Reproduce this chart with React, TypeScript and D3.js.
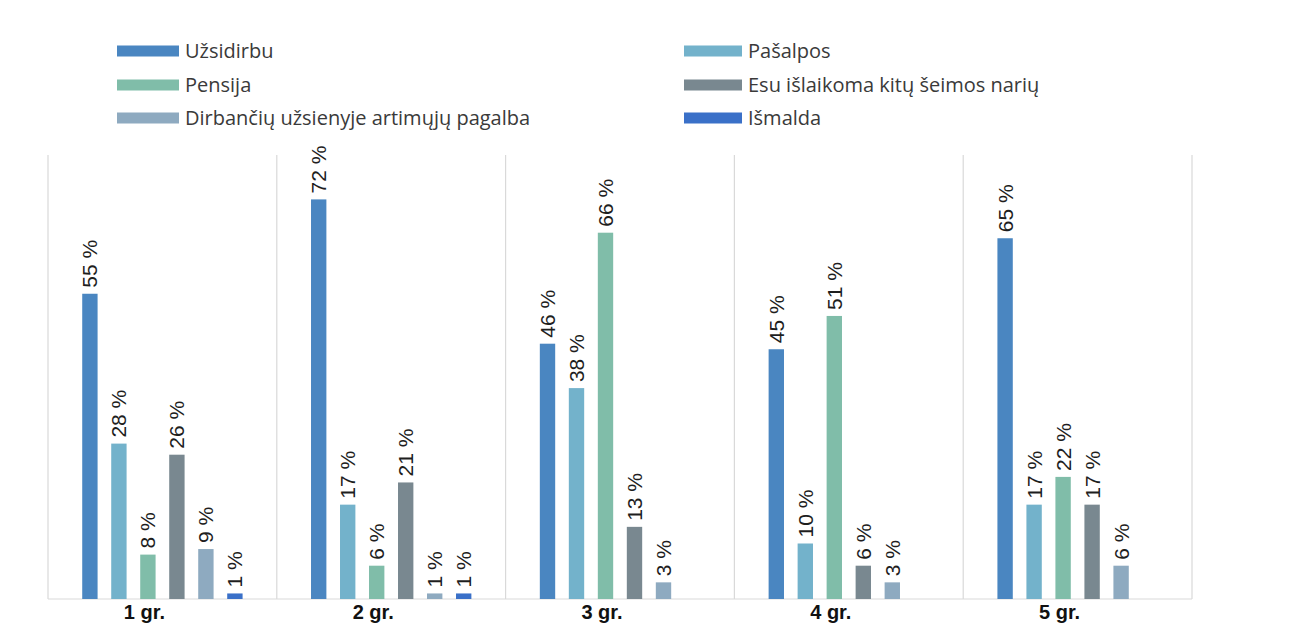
import React from "react";
import * as d3 from "d3";

const categories = ["1 gr.", "2 gr.", "3 gr.", "4 gr.", "5 gr."];
const seriesNames = [
  "Užsidirbu",
  "Pašalpos",
  "Pensija",
  "Esu išlaikoma kitų šeimos narių",
  "Dirbančių užsienyje artimųjų pagalba",
  "Išmalda",
];
const seriesColors = ["#4a86c1", "#73b2cb", "#80bda9", "#798890", "#8eaac0", "#3a70c8"];

const uzsidirbu = [55, 72, 46, 45, 65];
const pasalpos = [28, 17, 38, 10, 17];
const pensija = [8, 6, 66, 51, 22];
const esuIslaikoma = [26, 21, 13, 6, 17];
const dirbanciu = [9, 1, 3, 3, 6];
const ismalda: (number | null)[] = [1, 1, null, null, null];

const seriesValues: (number | null)[][] = [uzsidirbu, pasalpos, pensija, esuIslaikoma, dirbanciu, ismalda];

const W = 1290;
const H = 625;
const plotLeft = 48;
const plotRight = 1192;
const plotTop = 155;
const plotBottom = 599;

export default function App() {
  const x0 = d3.scaleBand<string>().domain(categories).range([plotLeft, plotRight]).padding(0);
  const x1 = d3
    .scaleBand<string>()
    .domain(seriesNames)
    .range([0, x0.bandwidth()])
    .paddingInner(0.47)
    .paddingOuter(1.18);
  const y = d3.scaleLinear().domain([0, 80]).range([plotBottom, plotTop]);

  const legendCols = [
    { swatchX: 117, swatchW: 62, textX: 185 },
    { swatchX: 684, swatchW: 58, textX: 748 },
  ];
  const legendRows = [51, 85, 118];

  const font = "'Liberation Sans', Arial, sans-serif";

  return (
    <svg
      width={W}
      height={H}
      style={{ position: "absolute", left: 0, top: 0, background: "#fff" }}
    >
      {/* legend */}
      {seriesNames.map((name, i) => {
        const col = legendCols[i % 2];
        const rowY = legendRows[Math.floor(i / 2)];
        return (
          <g key={name}>
            <rect x={col.swatchX} y={rowY - 5.5} width={col.swatchW} height={11} fill={seriesColors[i]} />
            <text
              x={col.textX}
              y={rowY}
              dy="0.36em"
              fontFamily="'Open Sans', sans-serif"
              fontSize={20}
              fill="#3a3a3a"
            >
              {name}
            </text>
          </g>
        );
      })}

      {/* vertical category separators */}
      {[...categories.map((c) => x0(c) as number), plotRight].map((xv, i) => (
        <line key={i} x1={xv} x2={xv} y1={plotTop} y2={plotBottom} stroke="#d9d9d9" strokeWidth={1.2} />
      ))}
      <line x1={plotLeft} x2={plotRight} y1={plotBottom} y2={plotBottom} stroke="#d9d9d9" strokeWidth={1.2} />

      {/* bars */}
      {categories.map((cat, ci) => (
        <g key={cat} transform={`translate(${x0(cat)},0)`}>
          {seriesNames.map((s, si) => {
            const v = seriesValues[si][ci];
            if (v === null || v === undefined) return null;
            const bx = x1(s) as number;
            const bw = x1.bandwidth();
            const cx = bx + bw / 2;
            const top = y(v);
            return (
              <g key={s}>
                <rect x={bx} y={top} width={bw} height={plotBottom - top} fill={seriesColors[si]} />
                <text
                  transform={`translate(${cx},${top - 6}) rotate(-90)`}
                  dy="0.36em"
                  textAnchor="start"
                  fontFamily={font}
                  fontSize={21}
                  fill="#1e1e1e"
                >
                  {`${v} %`}
                </text>
              </g>
            );
          })}
        </g>
      ))}

      {/* category labels */}
      {categories.map((cat) => (
        <text
          key={cat}
          x={(x0(cat) as number) + x0.bandwidth() / 2 - 18}
          y={619}
          textAnchor="middle"
          fontFamily={font}
          fontWeight="bold"
          fontSize={20}
          fill="#111"
        >
          {cat}
        </text>
      ))}
    </svg>
  );
}
